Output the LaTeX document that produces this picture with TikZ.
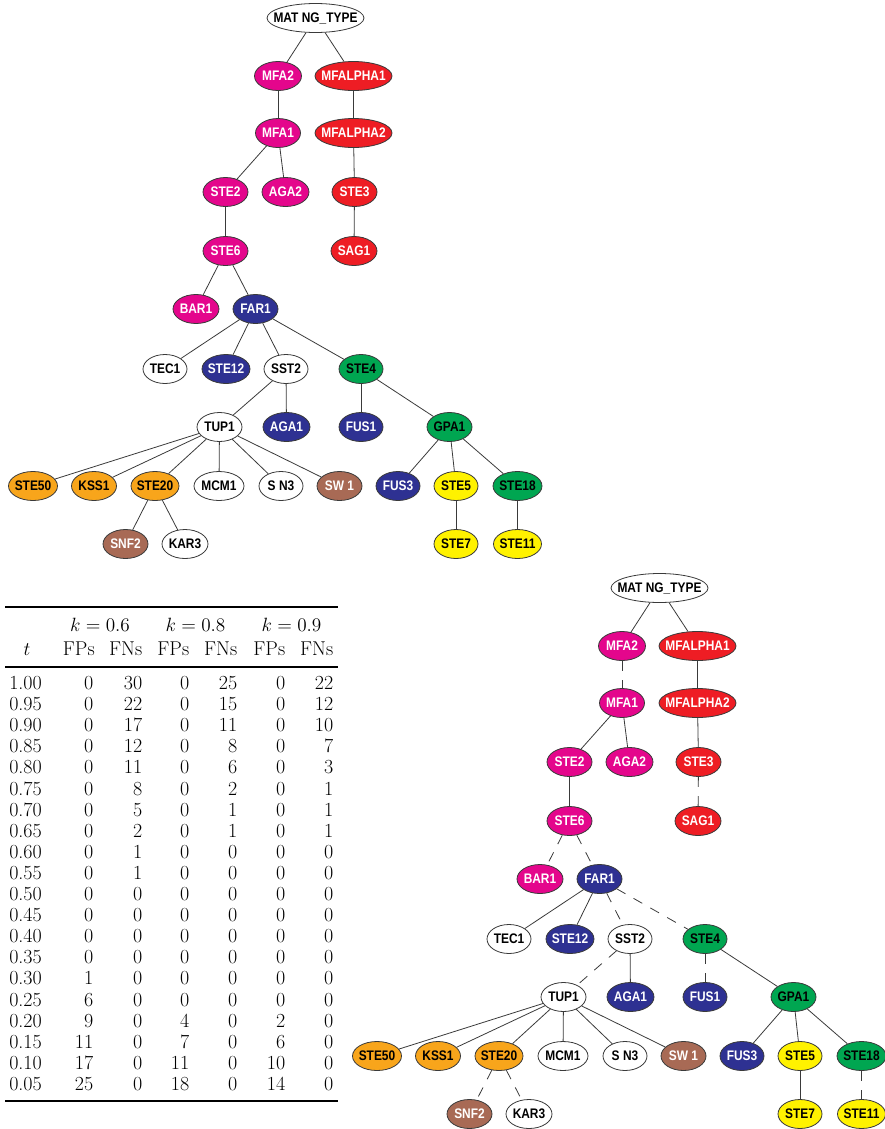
\documentclass[tikz,border=0pt]{standalone}
\usepackage{fontspec}
\usetikzlibrary{shapes.geometric}
\newfontfamily\genefont[FakeStretch=0.86]{Liberation Sans}
\definecolor{gpink}{HTML}{E4068C}
\definecolor{gred}{HTML}{EE1D24}
\definecolor{gnavy}{HTML}{2E3192}
\definecolor{ggreen}{HTML}{00A651}
\definecolor{gorange}{HTML}{F8A51B}
\definecolor{gyellow}{HTML}{FFF200}
\definecolor{gbrown}{HTML}{A86A55}
\definecolor{gline}{HTML}{3A3A3A}
\tikzset{
  gene/.style={ellipse, draw=gline, line width=0.6pt, inner sep=0pt,
    minimum height=21.75pt, text height=7.4pt, text depth=0pt,
    font=\genefont\bfseries\fontsize{10.4}{10.4}\selectfont},
  cpk/.style={fill=gpink, text=white},
  crd/.style={fill=gred, text=white},
  cnv/.style={fill=gnavy, text=white},
  cgr/.style={fill=ggreen, text=black},
  cor/.style={fill=gorange, text=black},
  cyl/.style={fill=gyellow, text=black},
  cbr/.style={fill=gbrown, text=white},
  cwh/.style={fill=white, text=black},
  conn/.style={draw=gline, line width=0.6pt},
  dconn/.style={dash pattern=on 7.5pt off 7pt},
  cell/.style={inner sep=0pt, font=\fontsize{15}{16}\selectfont},
  tabrule/.style={line width=0.9pt}
}
\newcommand{\genetree}[1]{%
  \foreach \n/\x/\y/\c/\w/\t in {
    MAT/315.5/18/cwh/97/{MAT NG\_TYPE},
    MFA2/278/76/cpk/47/MFA2,
    MFAL1/353.5/76/crd/77/MFALPHA1,
    MFA1/278/133/cpk/45/MFA1,
    MFAL2/353.5/133/crd/77/MFALPHA2,
    STE2/225.5/192/cpk/45/STE2,
    AGA2/285.5/192/cpk/47/AGA2,
    STE3/354.5/192/crd/45/STE3,
    STE6/225.5/251/cpk/45/STE6,
    SAG1/354/251/crd/46/SAG1,
    BAR1/196/309/cpk/46/BAR1,
    FAR1/255.5/309/cnv/45/FAR1,
    TEC1/165/369/cwh/44/TEC1,
    STE12/226/369/cnv/48/STE12,
    SST2/286/369/cwh/44/SST2,
    STE4/361/369/cgr/44/STE4,
    TUP1/219.5/427/cwh/45/TUP1,
    AGA1/286.5/427/cnv/47/AGA1,
    FUS1/361/427/cnv/44/FUS1,
    GPA1/449.5/427/cgr/45/GPA1,
    STE50/33/486/cor/49/STE50,
    KSS1/94/486/cor/45/KSS1,
    STE20/155/486/cor/48/STE20,
    MCM1/219/486/cwh/50/MCM1,
    SIN3/281/486/cwh/44/{S N3},
    SWI1/339.5/486/cbr/45/{SW 1},
    FUS3/398/486/cnv/44/FUS3,
    STE5/456/486/cyl/44/STE5,
    STE18/517.5/486/cgr/49/STE18,
    SNF2/125.5/544/cbr/45/SNF2,
    KAR3/185/544/cwh/46/KAR3,
    STE7/456/544/cyl/44/STE7,
    STE11/517.5/544/cyl/48/STE11}{
    \node[gene,\c,minimum width=\w*0.75pt] (#1\n) at (\x,\y) {\makebox[0pt]{\t}};
  }%
}
\newcommand{\geneedges}[2]{%
  \foreach \u/\v/\s in {
    MAT/MFA2/conn, MAT/MFAL1/conn, MFA2/MFA1/dconn, MFAL1/MFAL2/conn,
    MFA1/STE2/conn, MFA1/AGA2/conn, MFAL2/STE3/conn, STE2/STE6/conn,
    STE3/SAG1/dconn, STE6/BAR1/dconn, STE6/FAR1/dconn,
    FAR1/TEC1/conn, FAR1/STE12/conn, FAR1/SST2/dconn, FAR1/STE4/dconn,
    SST2/TUP1/dconn, SST2/AGA1/conn, STE4/FUS1/dconn, STE4/GPA1/conn,
    TUP1/STE50/conn, TUP1/KSS1/conn, TUP1/STE20/conn, TUP1/MCM1/conn,
    TUP1/SIN3/conn, TUP1/SWI1/conn,
    GPA1/FUS3/conn, GPA1/STE5/conn, GPA1/STE18/conn,
    STE20/SNF2/dconn, STE20/KAR3/dconn, STE5/STE7/conn, STE18/STE11/dconn}{
    \draw[conn,#2] (#1\u) -- (#1\v);
  }%
}
\begin{document}
\begin{tikzpicture}[x=0.75pt,y=-0.75pt]
\useasboundingbox (0,0) rectangle (885,1129);

% upper tree
\genetree{a}
\geneedges{a}{solid}

% lower tree
\begin{scope}[shift={(344,570)}]
\genetree{b}
\geneedges{b}{\s}
\end{scope}

% table
\draw[tabrule] (5,607) -- (338,607);
\draw[tabrule] (5,667) -- (338,667);
\draw[tabrule] (5,1101) -- (338,1101);
\node[cell,anchor=base] (k6) at (100,631) {$k=0.6$};
\node[cell,anchor=base] (k8) at (195.5,631) {$k=0.8$};
\node[cell,anchor=base] (k9) at (291.5,631) {$k=0.9$};
\node[cell,anchor=base] (ht) at (27,655) {$t$};
\foreach \xx/\lab [count=\j] in {95/FPs,142.5/FNs,189.5/FPs,237.5/FNs,285.5/FPs,333.5/FNs}{
  \node[cell,anchor=base east] (h\j) at (\xx,655) {\lab};
}
\foreach \tv/\a/\b/\c/\d/\e/\f [count=\i] in {
  1.00/0/30/0/25/0/22, 0.95/0/22/0/15/0/12, 0.90/0/17/0/11/0/10,
  0.85/0/12/0/8/0/7, 0.80/0/11/0/6/0/3, 0.75/0/8/0/2/0/1,
  0.70/0/5/0/1/0/1, 0.65/0/2/0/1/0/1, 0.60/0/1/0/0/0/0,
  0.55/0/1/0/0/0/0, 0.50/0/0/0/0/0/0, 0.45/0/0/0/0/0/0,
  0.40/0/0/0/0/0/0, 0.35/0/0/0/0/0/0, 0.30/1/0/0/0/0/0,
  0.25/6/0/0/0/0/0, 0.20/9/0/4/0/2/0, 0.15/11/0/7/0/6/0,
  0.10/17/0/11/0/10/0, 0.05/25/0/18/0/14/0}{
  \pgfmathsetmacro\yy{689.5+21.1*(\i-1)}
  \node[cell,anchor=base west] (r\i c0) at (9,\yy) {\tv};
  \node[cell,anchor=base east] (r\i c1) at (93.5,\yy) {\a};
  \node[cell,anchor=base east] (r\i c2) at (142.5,\yy) {\b};
  \node[cell,anchor=base east] (r\i c3) at (189.5,\yy) {\c};
  \node[cell,anchor=base east] (r\i c4) at (237.5,\yy) {\d};
  \node[cell,anchor=base east] (r\i c5) at (285.5,\yy) {\e};
  \node[cell,anchor=base east] (r\i c6) at (333.5,\yy) {\f};
}
\end{tikzpicture}
\end{document}
